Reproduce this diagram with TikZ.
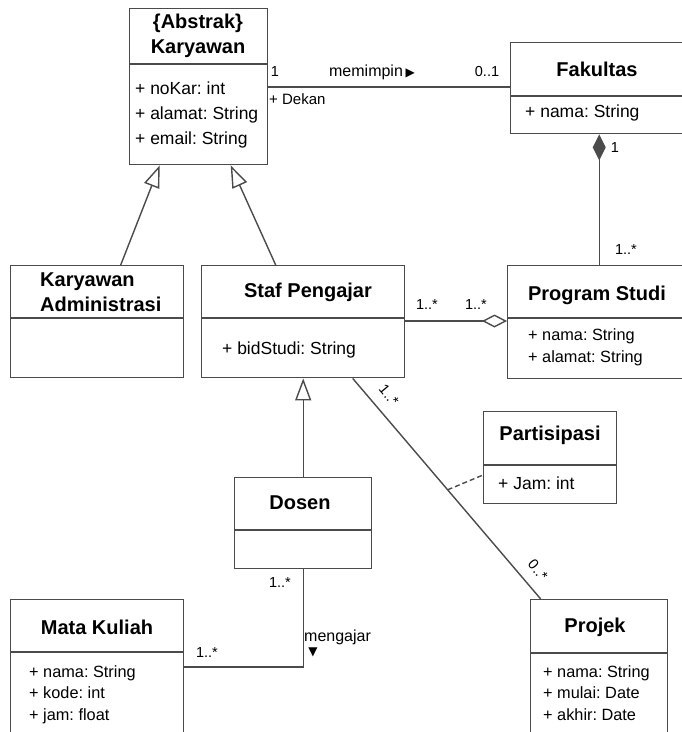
\documentclass[tikz,border=0pt]{standalone}
\usepackage{fontspec}
\setmainfont{Liberation Sans}
\newfontfamily\symfont{DejaVu Sans}
\usetikzlibrary{arrows.meta}
\definecolor{umlline}{RGB}{75,75,75}
\frenchspacing
\tikzset{
  cls/.style={draw=umlline, line width=1.4pt, fill=white, anchor=north west, inner sep=0pt},
  sep/.style={draw=umlline, line width=1.4pt},
  ttl/.style={font=\bfseries\fontsize{20}{25}\selectfont, align=center, inner sep=0pt},
  attr/.style={font=\fontsize{17.5}{25}\selectfont, align=left, anchor=west, inner sep=0pt},
  attrs/.style={font=\fontsize{16.3}{21.5}\selectfont, align=left, anchor=west, inner sep=0pt},
  mult/.style={font=\fontsize{14.5}{16}\selectfont, inner sep=0pt},
  assoc/.style={draw=umlline, line width=1.4pt},
  gen/.style={assoc, -{Triangle[open, length=22pt, width=16pt]}},
  agg/.style={assoc, -{Diamond[open, length=25pt, width=13pt]}},
  comp/.style={assoc, -{Diamond[length=26pt, width=13pt, fill=umlline]}},
}

\begin{document}
\begin{tikzpicture}[x=1pt, y=-1pt]
\useasboundingbox (0,0) rectangle (682,732);

%% class boxes
\node[cls, minimum width=138, minimum height=156] (kar)  at (129,8)   {};
\node[cls, minimum width=180, minimum height=91]  (fak)  at (510,42)  {};
\node[cls, minimum width=173, minimum height=112] (adm)  at (10,265)  {};
\node[cls, minimum width=203, minimum height=112] (staf) at (201,265) {};
\node[cls, minimum width=183, minimum height=113] (prog) at (507,265) {};
\node[cls, minimum width=133, minimum height=92]  (part) at (483,411) {};
\node[cls, minimum width=137, minimum height=91]  (dos)  at (234,477) {};
\node[cls, minimum width=173, minimum height=141] (mk)   at (10,599)  {};
\node[cls, minimum width=137, minimum height=141] (proj) at (530,599) {};

% name / attribute compartments
\foreach \c/\d in {kar/56, fak/54, adm/53, staf/53, prog/53, part/54, dos/53, mk/53, proj/54}
  \draw[sep] ([yshift=-\d]\c.north west) -- ([yshift=-\d]\c.north east);

%% names and attributes
\node[ttl] (karT) at (198,35.5) {\{Abstrak\}\\Karyawan};
\node[attr] (karA) at (135,115) {+ noKar: int\\+ alamat: String\\+ email: String};

\node[ttl] (fakT) at (597,69) {Fakultas};
\node[attr] (fakA) at (525,113) {+ nama: String};

\node[ttl, align=left, anchor=west] (admT) at (40,292.5) {Karyawan\\Administrasi};

\node[ttl] (stafT) at (308,292) {Staf Pengajar};
\node[attr] (stafA) at (222,350) {+ bidStudi: String};

\node[ttl] (progT) at (597,295) {Program Studi};
\node[attrs] (progA) at (528,347.5) {+ nama: String\\+ alamat: String};

\node[ttl] (partT) at (550,435) {Partisipasi};
\node[attr] (partA) at (498,483) {+ Jam: int};

\node[ttl] (dosT) at (300,503) {Dosen};

\node[ttl] (mkT) at (97,627) {Mata Kuliah};
\node[attrs] (mkA) at (29,694.5) {+ nama: String\\+ kode: int\\+ jam: float};

\node[ttl] (projT) at (595,627) {Projek};
\node[attrs] (projA) at (543,693) {+ nama: String\\+ mulai: Date\\+ akhir: Date};

%% inheritance
\draw[gen] ([xshift=23.5]adm.north) -- ([xshift=-39]kar.south);
\draw[gen] ([xshift=-27.5]staf.north) -- ([xshift=32]kar.south);
\draw[gen] (dos.north) -- (staf.south -| dos.north);

%% Karyawan -- Fakultas
\draw[assoc] (kar.east |- 0,87) -- (fak.west |- 0,87);
\node[mult] (mKar) at (275,72) {1};
\node[font=\fontsize{16}{17}\selectfont, inner sep=0pt] (lead) at (372,72)
  {memimpin\,{\symfont\fontsize{12}{14}\selectfont ▶}};
\node[mult] (mFak) at (487,72) {0..1};
\node[font=\fontsize{15}{16}\selectfont, anchor=west, inner sep=0pt] (role) at (269,99) {+ Dekan};

%% Fakultas <>-- Program Studi
\draw[comp] (prog.north) -- (prog.north |- fak.south);
\node[mult] (mFak2) at (615,148) {1};
\node[mult] (mProg) at (626,250) {1..*};

%% Staf Pengajar --<> Program Studi
\draw[agg] (staf.east |- 0,321) -- (prog.west |- 0,321);
\node[mult] (mStaf) at (427,305) {1..*};
\node[mult] (mProg2) at (476,305) {1..*};

%% Staf Pengajar -- Projek, class Partisipasi
\draw[assoc] ([xshift=49.5]staf.south) -- coordinate[pos=0.505] (link) ([xshift=-58.5]proj.north);
\draw[assoc, dash pattern=on 5pt off 3pt] (link) -- (part.west |- 0,475);
\node[mult, rotate=-50] (mStaf2) at (389,395) {1..*};
\node[mult, rotate=-50] (mProj) at (538,570) {0..*};

%% Dosen -- Mata Kuliah
\draw[assoc] (dos.south) |- (mk.east |- 0,667);
\node[mult] (mDos) at (280,583) {1..*};
\node[mult] (mMk) at (207,653) {1..*};
\node[font=\fontsize{16}{17}\selectfont, anchor=west, inner sep=0pt] (teach) at (304,637) {mengajar};
\node[font=\symfont\fontsize{12}{14}\selectfont, inner sep=0pt] (teachDir) at (313,652) {▼};

\end{tikzpicture}
\end{document}
